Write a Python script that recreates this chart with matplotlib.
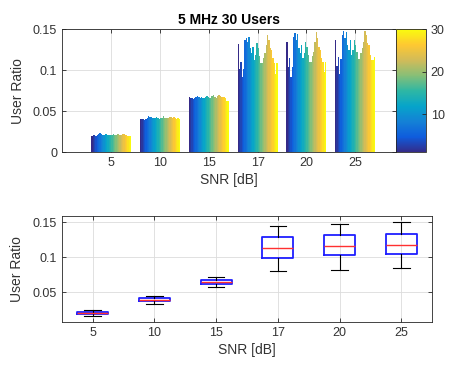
import numpy as np
import matplotlib.pyplot as plt
from matplotlib.colors import LinearSegmentedColormap, Normalize
from matplotlib.cm import ScalarMappable

plt.rcParams['font.family'] = ['Liberation Sans', 'DejaVu Sans']

snr_labels = ['5', '10', '15', '17', '20', '25']
n_users = 30

# mean user ratio per user (1..30) for each SNR
ratio_5 = [0.0205, 0.0210, 0.0208, 0.0200, 0.0212, 0.0220, 0.0232, 0.0225, 0.0218, 0.0213,
           0.0220, 0.0226, 0.0218, 0.0215, 0.0212, 0.0215, 0.0222, 0.0218, 0.0212, 0.0225,
           0.0220, 0.0216, 0.0214, 0.0222, 0.0224, 0.0218, 0.0213, 0.0205, 0.0200, 0.0198]
ratio_10 = [0.0410, 0.0405, 0.0412, 0.0400, 0.0408, 0.0418, 0.0440, 0.0432, 0.0428, 0.0420,
            0.0415, 0.0425, 0.0430, 0.0418, 0.0412, 0.0425, 0.0420, 0.0438, 0.0425, 0.0415,
            0.0422, 0.0418, 0.0432, 0.0428, 0.0420, 0.0428, 0.0418, 0.0412, 0.0415, 0.0405]
ratio_15 = [0.0670, 0.0660, 0.0668, 0.0655, 0.0662, 0.0675, 0.0690, 0.0672, 0.0668, 0.0680,
            0.0665, 0.0660, 0.0672, 0.0685, 0.0670, 0.0662, 0.0668, 0.0690, 0.0700, 0.0678,
            0.0665, 0.0682, 0.0695, 0.0688, 0.0672, 0.0680, 0.0670, 0.0660, 0.0630, 0.0625]
ratio_17 = [0.132, 0.102, 0.110, 0.092, 0.102, 0.137, 0.140, 0.135, 0.141, 0.127,
            0.121, 0.129, 0.113, 0.119, 0.133, 0.127, 0.117, 0.109, 0.109, 0.115,
            0.121, 0.131, 0.143, 0.137, 0.127, 0.125, 0.115, 0.109, 0.096, 0.109]
ratio_20 = [0.135, 0.104, 0.115, 0.092, 0.104, 0.141, 0.146, 0.137, 0.145, 0.127,
            0.121, 0.131, 0.115, 0.121, 0.135, 0.128, 0.119, 0.110, 0.110, 0.117,
            0.123, 0.135, 0.147, 0.139, 0.128, 0.125, 0.115, 0.110, 0.098, 0.110]
ratio_25 = [0.137, 0.105, 0.116, 0.096, 0.114, 0.143, 0.148, 0.139, 0.147, 0.131,
            0.125, 0.137, 0.119, 0.125, 0.137, 0.131, 0.123, 0.114, 0.114, 0.121,
            0.127, 0.135, 0.148, 0.143, 0.133, 0.131, 0.119, 0.113, 0.113, 0.116]
ratios = [ratio_5, ratio_10, ratio_15, ratio_17, ratio_20, ratio_25]

# boxplot statistics per SNR
box_low = [0.0164, 0.0332, 0.0580, 0.0808, 0.0813, 0.0841]
box_q1 = [0.0192, 0.0374, 0.0621, 0.0995, 0.1029, 0.1052]
box_med = [0.0206, 0.0397, 0.0650, 0.1129, 0.1157, 0.1170]
box_q3 = [0.0224, 0.0416, 0.0682, 0.1290, 0.1319, 0.1338]
box_high = [0.0243, 0.0449, 0.0720, 0.1452, 0.1476, 0.1500]

parula = LinearSegmentedColormap.from_list(
    'parula', ['#352a87', '#0f5cdd', '#1481d6', '#06a4ca', '#2eb7a4',
               '#87bf77', '#d1bb59', '#fec832', '#f9fb0e'])

axis_col = '#262626'
grid_col = '#dcdcdc'


def style_axes(ax):
    for s in ax.spines.values():
        s.set_color(axis_col)
        s.set_linewidth(0.6)
    ax.tick_params(direction='in', length=3, width=0.6, colors=axis_col,
                   labelsize=9, top=True, right=True, labelcolor='#333333')
    ax.grid(True, color=grid_col, linewidth=0.6)
    ax.set_axisbelow(True)


fig = plt.figure(figsize=(4.57, 3.69), dpi=100)
ax1 = fig.add_axes([0.1357, 0.587, 0.730, 0.3333])
cax = fig.add_axes([0.866, 0.587, 0.0656, 0.3333])
ax2 = fig.add_axes([0.135, 0.128, 0.811, 0.2865])

group_w = 0.82
bw = group_w / n_users
pos = np.arange(1, len(snr_labels) + 1)
for j in range(n_users):
    vals = [r[j] for r in ratios]
    ax1.bar(pos - group_w / 2 + (j + 0.5) * bw, vals, width=bw * 1.02,
            color=parula(j / (n_users - 1)), linewidth=0)
ax1.set_xlim(-0.01, 6.83)
ax1.set_ylim(0, 0.15)
ax1.set_xticks(pos)
ax1.set_xticklabels(snr_labels)
ax1.set_yticks([0, 0.05, 0.1, 0.15])
ax1.set_yticklabels(['0', '0.05', '0.1', '0.15'])
style_axes(ax1)
ax1.set_xlabel('SNR [dB]', fontsize=10, color='#333333', labelpad=3)
ax1.set_ylabel('User Ratio', fontsize=10, color='#333333', labelpad=6)
ax1.set_title('5 MHz 30 Users', fontsize=10, fontweight='bold', pad=4)

sm = ScalarMappable(norm=Normalize(1, 30), cmap=parula)
cb = fig.colorbar(sm, cax=cax, ticks=[10, 20, 30])
cb.outline.set_edgecolor(axis_col)
cb.outline.set_linewidth(0.6)
cax.tick_params(direction='in', length=3, width=0.6, colors=axis_col,
                labelsize=9, labelcolor='#333333')

stats = []
for i in range(len(snr_labels)):
    stats.append({'whislo': box_low[i], 'q1': box_q1[i], 'med': box_med[i],
                  'q3': box_q3[i], 'whishi': box_high[i], 'fliers': []})
ax2.bxp(stats, positions=pos, widths=0.5, capwidths=0.27, showfliers=False,
        boxprops=dict(color='#1f1fff', linewidth=1.3),
        medianprops=dict(color='#ff3030', linewidth=1.0),
        whiskerprops=dict(color='black', linewidth=0.8),
        capprops=dict(color='black', linewidth=0.8))
ax2.set_xlim(0.5, 6.5)
ax2.set_ylim(0.008, 0.159)
ax2.set_xticks(pos)
ax2.set_xticklabels(snr_labels)
ax2.set_yticks([0.05, 0.1, 0.15])
ax2.set_yticklabels(['0.05', '0.1', '0.15'])
style_axes(ax2)
ax2.set_xlabel('SNR [dB]', fontsize=10, color='#333333', labelpad=3)
ax2.set_ylabel('User Ratio', fontsize=10, color='#333333', labelpad=6)

fig.savefig('out.png', dpi=100)
